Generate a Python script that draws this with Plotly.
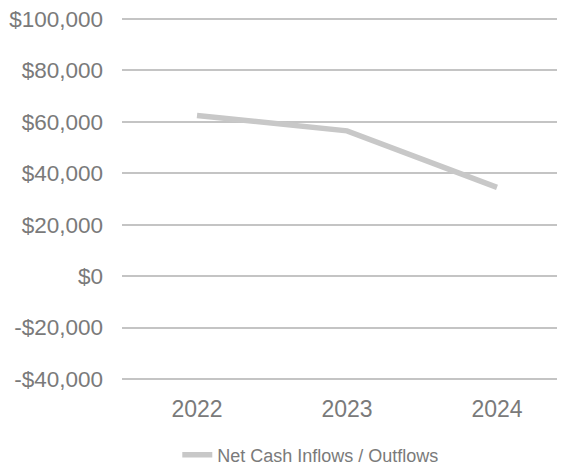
import plotly.graph_objects as go

years = ["2022", "2023", "2024"]
net_cash = [62500, 56500, 34500]
y_ticks = [-40000, -20000, 0, 20000, 40000, 60000, 80000, 100000]
y_tick_labels = ["-$40,000", "-$20,000", "$0", "$20,000", "$40,000", "$60,000", "$80,000", "$100,000"]
series_name = "Net Cash Inflows / Outflows"

fig = go.Figure()
fig.add_trace(go.Scatter(
    x=years, y=net_cash, mode="lines", name=series_name,
    line=dict(color="#c8c8c8", width=5.5),
))

fig.update_layout(
    width=559, height=457,
    margin=dict(l=114, r=10, t=10, b=85),
    plot_bgcolor="white", paper_bgcolor="white",
    font=dict(family="Liberation Sans, Arial, sans-serif", color="#7a7a7a"),
    showlegend=True,
    legend=dict(orientation="h", x=0.434, xanchor="center", yref="container",
                y=0.022, yanchor="middle", font=dict(size=18, color="#7a7a7a")),
    xaxis=dict(type="category", range=[-0.5, 2.4], showgrid=False, showline=False,
               zeroline=False, tickfont=dict(size=23), ticks="", ticklabelstandoff=13,
               automargin=False),
    yaxis=dict(range=[-40400, 100400], tickvals=y_ticks, ticktext=y_tick_labels,
               showgrid=True, gridcolor="#c4c4c4", gridwidth=1.5, zeroline=False,
               showline=False, tickfont=dict(size=22.5), ticklabelstandoff=18,
               ticklabeloverflow="allow", automargin=False),
)

fig.write_html("out.html")
